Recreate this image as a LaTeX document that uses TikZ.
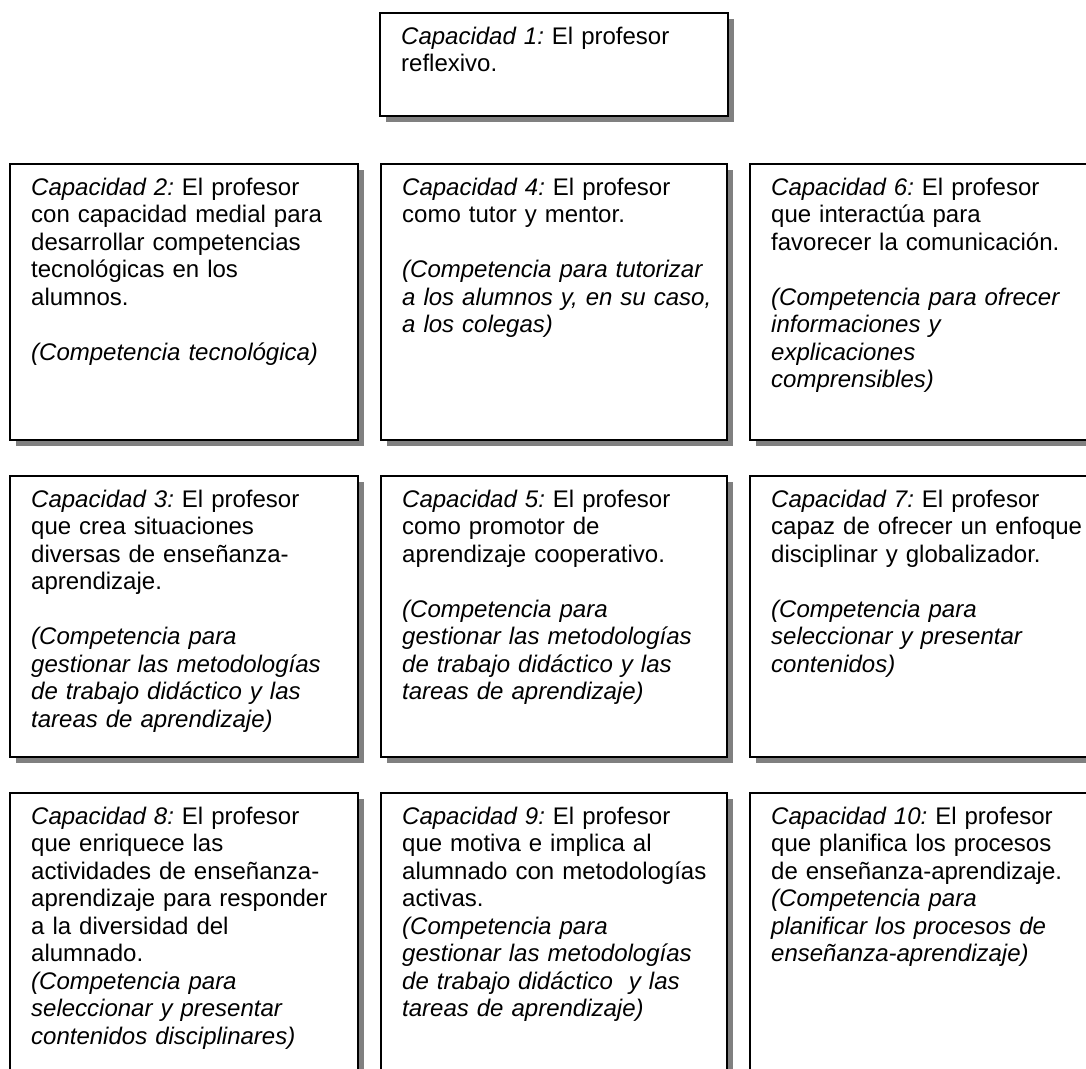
\documentclass[tikz,border=0pt]{standalone}
\usepackage{fontspec}
\setmainfont{Liberation Sans}
\usetikzlibrary{shadows}
\definecolor{shadowgray}{HTML}{808080}

\tikzset{
  capbox/.style={draw=black, line width=1.6pt, fill=white, anchor=north west,
    inner sep=0pt, drop shadow={shadow xshift=6pt, shadow yshift=-6pt,
    fill=shadowgray, opacity=1}},
  captext/.style={anchor=north west, inner sep=0pt, text width=320pt,
    align=left, font=\fontsize{24}{27.5}\selectfont\frenchspacing},
}

\begin{document}
\begin{tikzpicture}[x=1pt, y=-1pt]
\useasboundingbox (0,0) rectangle (1086,1068);
\clip (0,0) rectangle (1086,1068);
\fill[white] (0,0) rectangle (1086,1068);

% boxes
\node[capbox, minimum width=348pt, minimum height=103pt] (c1) at (379,12) {};
\node[capbox, minimum width=348pt, minimum height=276pt] (c2) at (9,163) {};
\node[capbox, minimum width=346pt, minimum height=276pt] (c4) at (380,163) {};
\node[capbox, minimum width=351pt, minimum height=276pt] (c6) at (749,163) {};
\node[capbox, minimum width=348pt, minimum height=281pt] (c3) at (9,475) {};
\node[capbox, minimum width=346pt, minimum height=281pt] (c5) at (380,475) {};
\node[capbox, minimum width=351pt, minimum height=281pt] (c7) at (749,475) {};
\node[capbox, minimum width=348pt, minimum height=300pt] (c8) at (9,792) {};
\node[capbox, minimum width=346pt, minimum height=300pt] (c9) at (380,792) {};
\node[capbox, minimum width=351pt, minimum height=300pt] (c10) at (749,792) {};

% texts
\node[captext] (t1) at ([xshift=22pt, yshift=-14.5pt]c1.north west)
  {{\itshape Capacidad 1:} El profesor\\ reflexivo.};
\node[captext] (t2) at ([xshift=22pt, yshift=-14.5pt]c2.north west)
  {{\itshape Capacidad 2:} El profesor\\ con capacidad medial para\\ desarrollar competencias\\ tecnológicas en los\\ alumnos.\\[27.5pt]
   {\itshape (Competencia tecnológica)}};
\node[captext] (t4) at ([xshift=22pt, yshift=-14.5pt]c4.north west)
  {{\itshape Capacidad 4:} El profesor\\ como tutor y mentor.\\[27.5pt]
   {\itshape (Competencia para tutorizar\\ a los alumnos y, en su caso,\\ a los colegas)}};
\node[captext] (t6) at ([xshift=22pt, yshift=-14.5pt]c6.north west)
  {{\itshape Capacidad 6:} El profesor\\ que interactúa para\\ favorecer la comunicación.\\[27.5pt]
   {\itshape (Competencia para ofrecer\\ informaciones y\\ explicaciones\\ comprensibles)}};
\node[captext] (t3) at ([xshift=22pt, yshift=-14.5pt]c3.north west)
  {{\itshape Capacidad 3:} El profesor\\ que crea situaciones\\ diversas de enseñanza-\\ aprendizaje.\\[27.5pt]
   {\itshape (Competencia para\\ gestionar las metodologías\\ de trabajo didáctico y las\\ tareas de aprendizaje)}};
\node[captext] (t5) at ([xshift=22pt, yshift=-14.5pt]c5.north west)
  {{\itshape Capacidad 5:} El profesor\\ como promotor de\\ aprendizaje cooperativo.\\[27.5pt]
   {\itshape (Competencia para\\ gestionar las metodologías\\ de trabajo didáctico y las\\ tareas de aprendizaje)}};
\node[captext] (t7) at ([xshift=22pt, yshift=-14.5pt]c7.north west)
  {{\itshape Capacidad 7:} El profesor\\ capaz de ofrecer un enfoque\\ disciplinar y globalizador.\\[27.5pt]
   {\itshape (Competencia para\\ seleccionar y presentar\\ contenidos)}};
\node[captext] (t8) at ([xshift=22pt, yshift=-14.5pt]c8.north west)
  {{\itshape Capacidad 8:} El profesor\\ que enriquece las\\ actividades de enseñanza-\\ aprendizaje para responder\\ a la diversidad del\\ alumnado.\\
   {\itshape (Competencia para\\ seleccionar y presentar\\ contenidos disciplinares)}};
\node[captext] (t9) at ([xshift=22pt, yshift=-14.5pt]c9.north west)
  {{\itshape Capacidad 9:} El profesor\\ que motiva e implica al\\ alumnado con metodologías\\ activas.\\
   {\itshape (Competencia para\\ gestionar las metodologías\\ de trabajo didáctico\ \ y las\\ tareas de aprendizaje)}};
\node[captext] (t10) at ([xshift=22pt, yshift=-14.5pt]c10.north west)
  {{\itshape Capacidad 10:} El profesor\\ que planifica los procesos\\ de enseñanza-aprendizaje.\\
   {\itshape (Competencia para\\ planificar los procesos de\\ enseñanza-aprendizaje)}};
\end{tikzpicture}
\end{document}
